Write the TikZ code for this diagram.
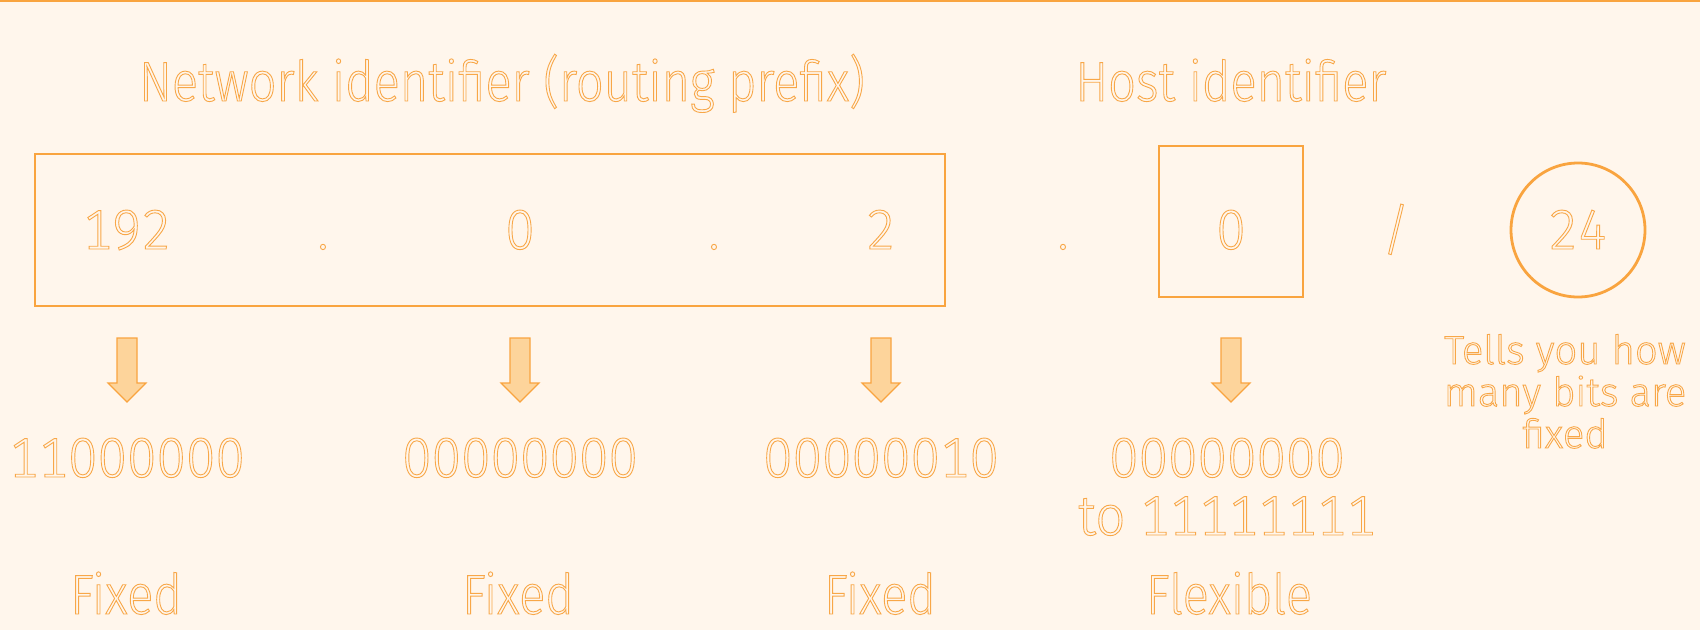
\documentclass[tikz,border=0pt]{standalone}
\usepackage{fontspec}
\setmainfont{Fira Sans Light}[FakeStretch=0.87]
\newfontfamily\numfont{Fira Sans Light}[Numbers=Monospaced, FakeStretch=0.94]
\newfontfamily\notefont{Fira Sans Light}
\usetikzlibrary{positioning}

\definecolor{bgcream}{HTML}{FFF6EC}
\definecolor{ipline}{HTML}{F9A43F}
\definecolor{iptext}{HTML}{F8A748}
\definecolor{arrowfill}{HTML}{FDD49B}

% outlined (stroked) glyphs
\newcommand{\hollow}[1]{\special{pdf:literal direct 1 Tr 0.9 w}#1\special{pdf:literal direct 0 Tr}}

\tikzset{
    bigtxt/.style={font=\fontsize{56}{60}\selectfont, text=iptext, inner sep=0pt, anchor=base},
    bignum/.style={bigtxt, font=\fontsize{56}{60}\numfont},
    smalltxt/.style={font=\fontsize{40}{42}\notefont, text=iptext, inner sep=0pt, align=center},
    ipbox/.style={draw=ipline, line width=2.8pt},
    downarrow/.style={draw=ipline, fill=arrowfill, line width=1.2pt, line join=miter}
}

\begin{document}
\begin{tikzpicture}[x=1pt, y=-1pt]
        % background --  --  --  --  --  --  --  --  --  --  --  --  --  --
        \fill[bgcream] (0,0) rectangle (1700,630);
        \useasboundingbox (0,0) rectangle (1700,630);
        \draw[ipline, line width=2.5pt] (0,1) -- (1700,1);

        % headings  --  --  --  --  --  --  --  --  --  --  --  --  --  --
        \node[bigtxt] (nettitle) at (502,101) {\hollow{Network identifier (routing prefix)}};
        \node[bigtxt] (hosttitle) at (1231,101) {\hollow{Host identifier}};

        % address boxes --  --  --  --  --  --  --  --  --  --  --  --  --
        \draw[ipbox] (35,154) rectangle (945,306);
        \draw[ipbox] (1159,146) rectangle (1303,297);
        \draw[ipbox] (1578,230) circle (67);

        % octets
        \node[bignum] (oct1) at (127,249) {\hollow{192}};
        \node[bignum] (dot1) at (323,249) {\hollow{.}};
        \node[bignum] (oct2) at (520,249) {\hollow{0}};
        \node[bignum] (dot2) at (714,249) {\hollow{.}};
        \node[bignum] (oct3) at (881,249) {\hollow{2}};
        \node[bignum] (dot3) at (1063,249) {\hollow{.}};
        \node[bignum] (oct4) at (1231,249) {\hollow{0}};
        \node[bignum] (slash) at (1396,249) {\hollow{/}};
        \node[bignum] (prefix) at (1578,249) {\hollow{24}};
        %  --  --  --  --  --  --  --  --  --  --  --  --  --  --  --  --

        % arrows  --  --  --  --  --  --  --  --  --  --  --  --  --  --  --
        \foreach \x in {127, 520, 881, 1231}
            \draw[downarrow] (\x-10,338) -- (\x+10,338) -- (\x+10,383) -- (\x+19,383)
                -- (\x,402) -- (\x-19,383) -- (\x-10,383) -- cycle;

        % binary values
        \node[bignum] (bin1) at (127,477) {\hollow{11000000}};
        \node[bignum] (bin2) at (520,477) {\hollow{00000000}};
        \node[bignum] (bin3) at (881,477) {\hollow{00000010}};
        \node[bignum] (bin4) at (1227,477) {\hollow{00000000}};
        \node[bignum] (bin4b) at (1227,535) {\hollow{to 11111111}};

        % fixed / flexible
        \node[bigtxt] (fix1) at (126,614) {\hollow{Fixed}};
        \node[bigtxt] (fix2) at (518,614) {\hollow{Fixed}};
        \node[bigtxt] (fix3) at (880,614) {\hollow{Fixed}};
        \node[bigtxt] (flex) at (1229,614) {\hollow{Flexible}};

        % prefix note
        \node[smalltxt, anchor=base] (note) at (1565,448) {\hollow{Tells you how}\\\hollow{many bits are}\\\hollow{fixed}};
        %  --  --  --  --  --  --  --  --  --  --  --  --  --  --  --  --
    \end{tikzpicture}
\end{document}
